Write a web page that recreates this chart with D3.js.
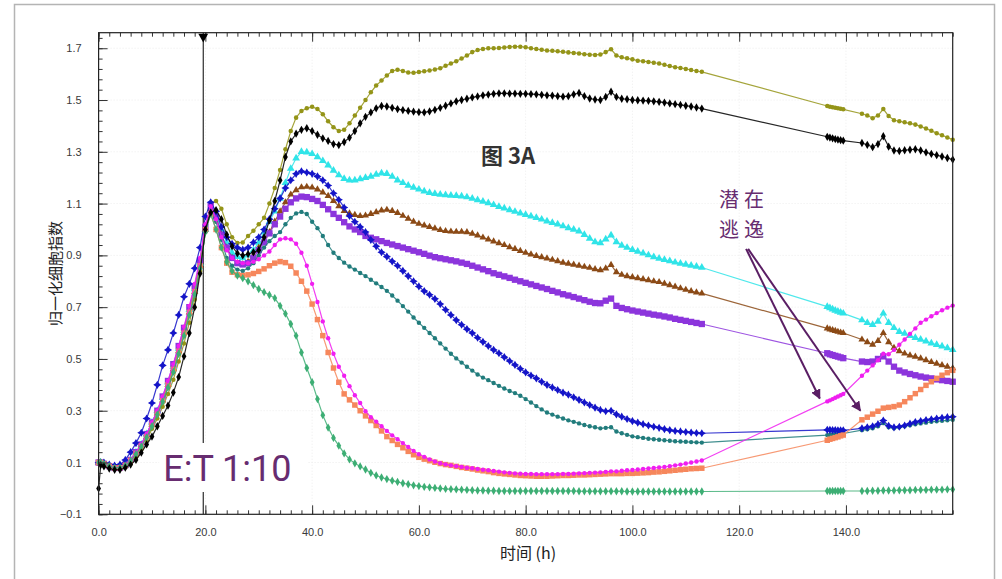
<!DOCTYPE html>
<html>
<head>
<meta charset="utf-8">
<script src="https://cdn.jsdelivr.net/npm/d3@7"></script>
<style>
    body { margin: 0; background: #fff; }
    svg { display: block; font-family: "Liberation Sans", Arial, sans-serif; }
</style>
</head>
<body>
<svg id="chart" width="1002" height="579"></svg>
<script>

// sample times (h): run up to 113 h, short read 136.5-139.5 h, last read 143-160 h
var times1 = [0, 0.4].concat(d3.range(1, 114));
var times2 = [136.5, 137, 137.5, 138, 138.5, 139, 139.5];
var times3 = d3.range(143, 161);

var xTicks = [0, 20, 40, 60, 80, 100, 120, 140];
var yTicks = [-0.1, 0.1, 0.3, 0.5, 0.7, 0.9, 1.1, 1.3, 1.5, 1.7];

// normalized cell index, one value per sample time
var olive = [
    0.095, 0.095, 0.09, 0.082, 0.075, 0.075, 0.082, 0.095, 0.12, 0.15,
    0.185, 0.23, 0.27, 0.315, 0.365, 0.42, 0.49, 0.56, 0.64, 0.73,
    0.84, 0.99, 1.10, 1.11, 1.08, 1.02, 0.97, 0.948, 0.95, 0.975,
    0.995, 1.02, 1.045, 1.1, 1.16, 1.23, 1.31, 1.38, 1.432, 1.458,
    1.468, 1.474, 1.465, 1.445, 1.418, 1.395, 1.38, 1.385, 1.41, 1.44,
    1.47, 1.50, 1.53, 1.556, 1.575, 1.595, 1.612, 1.617, 1.612, 1.606,
    1.605, 1.608, 1.611, 1.614, 1.618, 1.623, 1.632, 1.641, 1.65, 1.66,
    1.672, 1.685, 1.693, 1.697, 1.70, 1.70, 1.701, 1.703, 1.705, 1.706,
    1.706, 1.704, 1.70, 1.697, 1.694, 1.691, 1.69, 1.688, 1.686, 1.684,
    1.682, 1.68, 1.677, 1.675, 1.674, 1.676, 1.685, 1.696, 1.672, 1.665,
    1.661, 1.657, 1.652, 1.65, 1.647, 1.644, 1.641, 1.636, 1.631, 1.627,
    1.624, 1.62, 1.616, 1.612, 1.609,
    1.477, 1.474, 1.472, 1.47, 1.468, 1.466, 1.464,
    1.447, 1.44, 1.43, 1.44, 1.465, 1.438, 1.422, 1.418, 1.414,
    1.41, 1.405, 1.398, 1.39, 1.381, 1.372, 1.364, 1.355, 1.347
];

var black = [
    0, 0.09, 0.085, 0.077, 0.072, 0.072, 0.08, 0.092, 0.11, 0.138,
    0.17, 0.20, 0.24, 0.28, 0.32, 0.37, 0.43, 0.51, 0.60, 0.70,
    0.83, 1.0, 1.065, 1.075, 1.04, 0.98, 0.935, 0.908, 0.90, 0.905,
    0.912, 0.92, 0.97, 1.035, 1.11, 1.19, 1.28, 1.34, 1.37, 1.385,
    1.391, 1.38, 1.366, 1.352, 1.342, 1.33, 1.326, 1.338, 1.355, 1.38,
    1.41, 1.435, 1.452, 1.468, 1.477, 1.475, 1.47, 1.465, 1.461, 1.458,
    1.455, 1.453, 1.452, 1.456, 1.462, 1.47, 1.478, 1.487, 1.495, 1.50,
    1.505, 1.51, 1.514, 1.518, 1.521, 1.524, 1.526, 1.526, 1.525, 1.525,
    1.524, 1.524, 1.523, 1.522, 1.52, 1.518, 1.517, 1.515, 1.513, 1.515,
    1.522, 1.527, 1.515, 1.506, 1.502, 1.50, 1.512, 1.532, 1.512, 1.505,
    1.503, 1.50, 1.499, 1.498, 1.497, 1.495, 1.493, 1.49, 1.487, 1.484,
    1.481, 1.478, 1.475, 1.471, 1.467,
    1.358, 1.355, 1.352, 1.349, 1.347, 1.345, 1.343,
    1.334, 1.327, 1.318, 1.33, 1.36, 1.32, 1.305, 1.303, 1.306,
    1.308, 1.31, 1.305, 1.298, 1.292, 1.287, 1.282, 1.276, 1.27
];

var cyan = [
    0.10, 0.10, 0.095, 0.085, 0.078, 0.08, 0.09, 0.11, 0.14, 0.17,
    0.21, 0.255, 0.30, 0.35, 0.41, 0.47, 0.54, 0.61, 0.69, 0.77,
    0.87, 1.0, 1.08, 1.06, 1.0, 0.95, 0.91, 0.895, 0.89, 0.90,
    0.92, 0.95, 0.99, 1.03, 1.07, 1.12, 1.18, 1.235, 1.275, 1.30,
    1.298, 1.292, 1.28, 1.265, 1.248, 1.228, 1.21, 1.196, 1.19, 1.19,
    1.195, 1.20, 1.205, 1.212, 1.217, 1.215, 1.205, 1.19, 1.18, 1.17,
    1.162, 1.155, 1.148, 1.142, 1.138, 1.135, 1.133, 1.131, 1.13, 1.128,
    1.125, 1.12, 1.114, 1.108, 1.102, 1.095, 1.088, 1.082, 1.075, 1.069,
    1.063, 1.057, 1.051, 1.045, 1.039, 1.032, 1.026, 1.02, 1.013, 1.006,
    1.0, 0.993, 0.98, 0.965, 0.952, 0.948, 0.962, 0.978, 0.952, 0.938,
    0.93, 0.922, 0.915, 0.908, 0.901, 0.894, 0.888, 0.883, 0.878, 0.873,
    0.869, 0.865, 0.861, 0.857, 0.853,
    0.702, 0.697, 0.692, 0.687, 0.683, 0.679, 0.676,
    0.65, 0.64, 0.632, 0.645, 0.676, 0.64, 0.62, 0.605, 0.598,
    0.59, 0.582, 0.575, 0.568, 0.561, 0.555, 0.549, 0.542, 0.535
];

var brown = [
    0.10, 0.10, 0.094, 0.085, 0.078, 0.079, 0.088, 0.108, 0.135, 0.165,
    0.20, 0.245, 0.29, 0.34, 0.40, 0.46, 0.53, 0.60, 0.68, 0.76,
    0.86, 1.0, 1.08, 1.05, 0.98, 0.93, 0.89, 0.87, 0.865, 0.875,
    0.9, 0.93, 0.96, 0.99, 1.03, 1.07, 1.105, 1.135, 1.152, 1.163,
    1.165, 1.162, 1.155, 1.143, 1.13, 1.11, 1.09, 1.072, 1.062, 1.056,
    1.052, 1.054, 1.06, 1.067, 1.074, 1.076, 1.072, 1.064, 1.053, 1.042,
    1.03, 1.022, 1.016, 1.01, 1.004, 0.998, 0.994, 0.992, 0.991, 0.991,
    0.99, 0.984, 0.977, 0.969, 0.962, 0.954, 0.947, 0.94, 0.932, 0.925,
    0.917, 0.91, 0.904, 0.898, 0.893, 0.888, 0.883, 0.878, 0.872, 0.868,
    0.864, 0.86, 0.856, 0.852, 0.847, 0.843, 0.85, 0.863, 0.835, 0.825,
    0.82, 0.816, 0.812, 0.808, 0.804, 0.80, 0.797, 0.791, 0.785, 0.779,
    0.773, 0.767, 0.762, 0.757, 0.753,
    0.618, 0.614, 0.611, 0.608, 0.605, 0.602, 0.60,
    0.575, 0.565, 0.555, 0.57, 0.60, 0.565, 0.543, 0.53, 0.521,
    0.514, 0.509, 0.502, 0.495, 0.488, 0.482, 0.476, 0.47, 0.464
];

var purple = [
    0.10, 0.10, 0.095, 0.086, 0.079, 0.08, 0.09, 0.11, 0.14, 0.17,
    0.21, 0.255, 0.30, 0.355, 0.415, 0.48, 0.55, 0.62, 0.70, 0.78,
    0.88, 1.01, 1.09, 1.05, 0.98, 0.93, 0.89, 0.87, 0.865, 0.87,
    0.89, 0.92, 0.95, 0.985, 1.02, 1.05, 1.08, 1.105, 1.12, 1.127,
    1.125, 1.118, 1.11, 1.095, 1.078, 1.06, 1.045, 1.028, 1.012, 1.0,
    0.99, 0.975, 0.968, 0.962, 0.955, 0.948, 0.942, 0.936, 0.93, 0.924,
    0.918, 0.912, 0.906, 0.899, 0.893, 0.889, 0.885, 0.881, 0.877, 0.872,
    0.867, 0.86, 0.853, 0.846, 0.839, 0.831, 0.825, 0.819, 0.813, 0.806,
    0.80, 0.794, 0.788, 0.782, 0.776, 0.77, 0.763, 0.757, 0.75, 0.745,
    0.739, 0.733, 0.727, 0.721, 0.716, 0.715, 0.725, 0.733, 0.705, 0.697,
    0.692, 0.687, 0.683, 0.679, 0.675, 0.671, 0.668, 0.664, 0.66, 0.655,
    0.651, 0.647, 0.643, 0.639, 0.635,
    0.522, 0.518, 0.515, 0.512, 0.509, 0.506, 0.503,
    0.49, 0.488, 0.49, 0.50, 0.51, 0.49, 0.47, 0.455, 0.448,
    0.442, 0.437, 0.432, 0.428, 0.425, 0.421, 0.418, 0.415, 0.412
];

var blue = [
    0.10, 0.10, 0.10, 0.092, 0.088, 0.092, 0.11, 0.14, 0.175, 0.215,
    0.27, 0.33, 0.40, 0.475, 0.535, 0.60, 0.67, 0.74, 0.79, 0.85,
    0.93, 1.05, 1.105, 1.07, 1.01, 0.97, 0.945, 0.93, 0.922, 0.93,
    0.95, 0.97, 1.0, 1.04, 1.08, 1.12, 1.16, 1.19, 1.215, 1.225,
    1.22, 1.215, 1.205, 1.19, 1.17, 1.14, 1.115, 1.085, 1.052, 1.03,
    1.01, 0.99, 0.96, 0.935, 0.912, 0.895, 0.877, 0.86, 0.84, 0.82,
    0.80, 0.78, 0.762, 0.748, 0.732, 0.712, 0.69, 0.67, 0.65, 0.632,
    0.615, 0.60, 0.582, 0.566, 0.55, 0.535, 0.522, 0.507, 0.492, 0.477,
    0.462, 0.448, 0.436, 0.425, 0.412, 0.40, 0.39, 0.38, 0.37, 0.362,
    0.352, 0.342, 0.332, 0.322, 0.312, 0.303, 0.298, 0.30, 0.286, 0.277,
    0.268, 0.26, 0.254, 0.248, 0.243, 0.238, 0.234, 0.229, 0.225, 0.222,
    0.22, 0.218, 0.216, 0.214, 0.213,
    0.226, 0.226, 0.225, 0.225, 0.224, 0.224, 0.224,
    0.232, 0.236, 0.24, 0.248, 0.262, 0.242, 0.236, 0.238, 0.243,
    0.25, 0.256, 0.26, 0.264, 0.267, 0.27, 0.273, 0.275, 0.277
];

var teal = [
    0.10, 0.10, 0.094, 0.085, 0.078, 0.079, 0.088, 0.107, 0.133, 0.163,
    0.20, 0.24, 0.285, 0.335, 0.39, 0.45, 0.52, 0.59, 0.67, 0.75,
    0.85, 0.99, 1.07, 1.03, 0.96, 0.89, 0.86, 0.845, 0.84, 0.85,
    0.87, 0.90, 0.93, 0.955, 0.975, 0.99, 1.02, 1.045, 1.062, 1.068,
    1.06, 1.03, 1.005, 0.975, 0.94, 0.91, 0.89, 0.872, 0.857, 0.845,
    0.832, 0.82, 0.806, 0.792, 0.778, 0.763, 0.745, 0.725, 0.704, 0.683,
    0.66, 0.64, 0.62, 0.60, 0.58, 0.56, 0.54, 0.52, 0.502, 0.486,
    0.47, 0.455, 0.44, 0.428, 0.418, 0.407, 0.396, 0.386, 0.376, 0.368,
    0.358, 0.345, 0.332, 0.318, 0.305, 0.293, 0.285, 0.277, 0.27, 0.263,
    0.257, 0.251, 0.245, 0.24, 0.236, 0.232, 0.234, 0.236, 0.22, 0.213,
    0.207, 0.201, 0.198, 0.195, 0.192, 0.19, 0.188, 0.186, 0.184, 0.182,
    0.181, 0.18, 0.179, 0.178, 0.177,
    0.206, 0.207, 0.208, 0.209, 0.21, 0.211, 0.212,
    0.225, 0.228, 0.232, 0.24, 0.252, 0.236, 0.232, 0.236, 0.24,
    0.244, 0.248, 0.251, 0.254, 0.257, 0.259, 0.261, 0.263, 0.265
];

var salmon = [
    0.10, 0.10, 0.095, 0.086, 0.079, 0.08, 0.089, 0.108, 0.135, 0.165,
    0.20, 0.245, 0.29, 0.34, 0.40, 0.46, 0.53, 0.60, 0.68, 0.76,
    0.86, 1.0, 1.06, 1.0, 0.93, 0.87, 0.835, 0.825, 0.822, 0.825,
    0.83, 0.838, 0.848, 0.86, 0.87, 0.876, 0.872, 0.858, 0.832, 0.80,
    0.762, 0.712, 0.652, 0.59, 0.525, 0.465, 0.41, 0.365, 0.342, 0.322,
    0.30, 0.28, 0.262, 0.243, 0.222, 0.20, 0.185, 0.17, 0.157, 0.143,
    0.13, 0.12, 0.113, 0.107, 0.101, 0.096, 0.092, 0.089, 0.085, 0.081,
    0.078, 0.075, 0.071, 0.068, 0.065, 0.061, 0.058, 0.056, 0.054, 0.052,
    0.05, 0.049, 0.048, 0.047, 0.047, 0.047, 0.048, 0.049, 0.05, 0.05,
    0.051, 0.052, 0.052, 0.053, 0.054, 0.055, 0.056, 0.057, 0.057, 0.057,
    0.058, 0.058, 0.059, 0.06, 0.061, 0.063, 0.064, 0.066, 0.068, 0.07,
    0.072, 0.074, 0.076, 0.077, 0.078,
    0.186, 0.19, 0.193, 0.196, 0.199, 0.203, 0.206,
    0.265, 0.275, 0.287, 0.298, 0.31, 0.313, 0.316, 0.322, 0.335,
    0.35, 0.366, 0.382, 0.398, 0.412, 0.425, 0.437, 0.447, 0.456
];

var magenta = [
    0.10, 0.10, 0.096, 0.087, 0.08, 0.081, 0.09, 0.11, 0.138, 0.17,
    0.21, 0.255, 0.30, 0.355, 0.415, 0.48, 0.55, 0.625, 0.705, 0.79,
    0.89, 1.02, 1.09, 1.04, 0.97, 0.92, 0.89, 0.875, 0.87, 0.87,
    0.875, 0.885, 0.90, 0.915, 0.94, 0.962, 0.966, 0.962, 0.945, 0.91,
    0.86, 0.79, 0.72, 0.645, 0.58, 0.52, 0.47, 0.435, 0.395, 0.36,
    0.33, 0.298, 0.275, 0.258, 0.24, 0.222, 0.205, 0.19, 0.175, 0.16,
    0.145, 0.132, 0.122, 0.112, 0.104, 0.097, 0.093, 0.089, 0.086, 0.083,
    0.08, 0.078, 0.075, 0.072, 0.07, 0.067, 0.065, 0.062, 0.06, 0.058,
    0.057, 0.056, 0.056, 0.055, 0.055, 0.055, 0.055, 0.055, 0.056, 0.056,
    0.057, 0.058, 0.059, 0.06, 0.061, 0.062, 0.064, 0.066, 0.066, 0.068,
    0.07, 0.071, 0.073, 0.075, 0.077, 0.079, 0.081, 0.083, 0.086, 0.089,
    0.092, 0.096, 0.10, 0.104, 0.108,
    0.336, 0.34, 0.345, 0.35, 0.355, 0.36, 0.365,
    0.435, 0.455, 0.475, 0.495, 0.52, 0.518, 0.535, 0.555, 0.575,
    0.597, 0.618, 0.64, 0.652, 0.665, 0.677, 0.688, 0.698, 0.706
];

var green = [
    0.10, 0.10, 0.095, 0.086, 0.079, 0.08, 0.088, 0.106, 0.132, 0.162,
    0.197, 0.24, 0.285, 0.335, 0.39, 0.45, 0.52, 0.59, 0.67, 0.75,
    0.85, 0.99, 1.06, 1.0, 0.93, 0.875, 0.84, 0.822, 0.812, 0.80,
    0.785, 0.77, 0.758, 0.747, 0.735, 0.705, 0.675, 0.635, 0.59, 0.525,
    0.465, 0.41, 0.345, 0.283, 0.235, 0.195, 0.165, 0.135, 0.112, 0.097,
    0.085, 0.073, 0.06, 0.05, 0.042, 0.036, 0.03, 0.025, 0.02, 0.016,
    0.012, 0.009, 0.006, 0.004, 0.002, 0.0, -0.002, -0.003, -0.004, -0.005,
    -0.006, -0.007, -0.008, -0.008, -0.009, -0.009, -0.01, -0.01, -0.01, -0.01,
    -0.01, -0.01, -0.01, -0.01, -0.01, -0.01, -0.01, -0.01, -0.01, -0.01,
    -0.01, -0.011, -0.011, -0.011, -0.011, -0.011, -0.011, -0.011, -0.011, -0.011,
    -0.012, -0.012, -0.012, -0.012, -0.012, -0.012, -0.012, -0.012, -0.012, -0.012,
    -0.012, -0.012, -0.012, -0.012, -0.012,
    -0.01, -0.01, -0.01, -0.01, -0.01, -0.01, -0.01,
    -0.01, -0.01, -0.009, -0.009, -0.008, -0.008, -0.008, -0.007, -0.007,
    -0.007, -0.006, -0.006, -0.006, -0.005, -0.005, -0.005, -0.004, -0.004
];

// 4-point star used for the blue series
var star4 = {
    draw: function (ctx, size) {
        var r = Math.sqrt(size) * 0.8, s = r * 0.38;
        ctx.moveTo(0, -r); ctx.lineTo(s, -s); ctx.lineTo(r, 0); ctx.lineTo(s, s);
        ctx.lineTo(0, r); ctx.lineTo(-s, s); ctx.lineTo(-r, 0); ctx.lineTo(-s, -s);
        ctx.closePath();
    }
};

var times = times1.concat(times2, times3);

// black goes last so its start point sits on top, as in the source
var series = [
    {values: olive, color: "#949418", symbol: d3.symbolCircle, size: 16},
    {values: cyan, color: "#30e4e8", symbol: d3.symbolTriangle, size: 26},
    {values: brown, color: "#8b4a16", symbol: d3.symbolTriangle, size: 22},
    {values: purple, color: "#8c35dc", symbol: d3.symbolSquare, size: 40},
    {values: teal, color: "#217c7c", symbol: d3.symbolCircle, size: 15},
    {values: blue, color: "#1414c8", symbol: star4, size: 26},
    {values: salmon, color: "#f6875c", symbol: d3.symbolSquare, size: 30},
    {values: magenta, color: "#f01ef0", symbol: d3.symbolCircle, size: 15},
    {values: green, color: "#3dae74", symbol: d3.symbolDiamond, size: 20},
    {values: black, color: "#000000", symbol: d3.symbolDiamond, size: 20}
];

var plot = {left: 98.6, right: 952.7, top: 32.7, bottom: 514.3};

var x = d3.scaleLinear().domain([0, 160]).range([plot.left, plot.right]);
var y = d3.scaleLinear().domain([-0.1, 1.76]).range([plot.bottom, plot.top]);

var svg = d3.select("#chart");

svg.append("rect")
    .attr("width", 1002).attr("height", 579)
    .attr("fill", "#fff");

svg.append("rect")
    .attr("x", 14.5).attr("y", 4.5)
    .attr("width", 980).attr("height", 640)
    .attr("fill", "none")
    .attr("stroke", "#b4b4b4")
    .attr("stroke-width", 1.5);

// faint grid
var grid = svg.append("g").attr("stroke", "#ececec").attr("stroke-dasharray", "1,2");
grid.selectAll(null).data(yTicks.slice(1)).enter().append("line")
    .attr("x1", plot.left).attr("x2", plot.right)
    .attr("y1", function (d) { return y(d); })
    .attr("y2", function (d) { return y(d); });
grid.selectAll(null).data(xTicks.slice(1)).enter().append("line")
    .attr("y1", plot.top).attr("y2", plot.bottom)
    .attr("x1", function (d) { return x(d); })
    .attr("x2", function (d) { return x(d); });

// E:T marker line
var etTime = 19.6;
svg.append("line")
    .attr("x1", x(etTime)).attr("x2", x(etTime))
    .attr("y1", plot.top).attr("y2", plot.bottom)
    .attr("stroke", "#000").attr("stroke-width", 1);

// series
var line = d3.line()
    .x(function (d) { return x(d[0]); })
    .y(function (d) { return y(d[1]); });

var gSeries = svg.append("g");

series.forEach(function (s) {
    var pts = times.map(function (t, i) { return [t, s.values[i]]; });
    var g = gSeries.append("g");

    g.append("path")
        .datum(pts)
        .attr("d", line)
        .attr("fill", "none")
        .attr("stroke", s.color)
        .attr("stroke-opacity", 0.85)
        .attr("stroke-width", 1.2);

    g.selectAll("path.pt")
        .data(pts)
        .enter()
        .append("path")
        .attr("class", "pt")
        .attr("transform", function (d) {
            return "translate(" + x(d[0]) + "," + y(d[1]) + ")";
        })
        .attr("d", d3.symbol().type(s.symbol).size(s.size))
        .attr("fill", s.color);
});

// axes
var fmt = d3.format(".1f");

var axisG = svg.append("g")
    .attr("font-size", 11)
    .attr("fill", "#333");

axisG.append("g")
    .attr("transform", "translate(0," + plot.bottom + ")")
    .call(d3.axisBottom(x).tickValues(xTicks).tickSizeInner(-9).tickSizeOuter(0)
        .tickPadding(14).tickFormat(fmt));
axisG.append("g")
    .attr("transform", "translate(0," + plot.bottom + ")")
    .call(d3.axisBottom(x).tickValues(d3.range(0, 161, 2)).tickSizeInner(-4)
        .tickSizeOuter(0).tickFormat(""));
axisG.append("g")
    .attr("transform", "translate(0," + plot.top + ")")
    .call(d3.axisTop(x).tickValues(xTicks).tickSizeInner(-9).tickSizeOuter(0).tickFormat(""));
axisG.append("g")
    .attr("transform", "translate(0," + plot.top + ")")
    .call(d3.axisTop(x).tickValues(d3.range(0, 161, 2)).tickSizeInner(-4)
        .tickSizeOuter(0).tickFormat(""));

axisG.append("g")
    .attr("transform", "translate(" + plot.left + ",0)")
    .call(d3.axisLeft(y).tickValues(yTicks).tickSizeInner(-9).tickSizeOuter(0)
        .tickPadding(17).tickFormat(fmt));
axisG.append("g")
    .attr("transform", "translate(" + plot.left + ",0)")
    .call(d3.axisLeft(y).tickValues(d3.range(-0.1, 1.76, 0.04)).tickSizeInner(-4)
        .tickSizeOuter(0).tickFormat(""));

axisG.selectAll(".domain").remove();
axisG.selectAll(".tick line").attr("stroke", "#333");
axisG.selectAll(".tick text")
    .attr("fill", "#3a3a3a")
    .attr("font-family", "'Liberation Sans', Arial, sans-serif")
    .attr("font-size", 11);

// frame
svg.append("rect")
    .attr("x", plot.left).attr("y", plot.top)
    .attr("width", plot.right - plot.left)
    .attr("height", plot.bottom - plot.top)
    .attr("fill", "none")
    .attr("stroke", "#222")
    .attr("stroke-width", 1.2);

// E:T marker head
svg.append("path")
    .attr("transform", "translate(" + x(etTime) + "," + (plot.top + 4) + ") rotate(180)")
    .attr("d", d3.symbol().type(d3.symbolTriangle).size(42))
    .attr("fill", "#000");

// E:T label with white box
svg.append("rect")
    .attr("x", x(etTime) - 44).attr("y", 443)
    .attr("width", 148).attr("height", 49)
    .attr("fill", "#fff");
svg.append("text")
    .attr("x", x(etTime) - 40).attr("y", 481)
    .attr("font-family", "Roboto, 'Open Sans', sans-serif")
    .attr("font-size", 36)
    .attr("fill", "#672c70")
    .text("E:T 1:10");

// axis titles
svg.append("text")
    .attr("transform", "translate(61," + ((plot.top + plot.bottom) / 2) + ") rotate(-90)")
    .attr("text-anchor", "middle")
    .attr("font-family", "'Noto Sans CJK SC', sans-serif")
    .attr("font-size", 15)
    .attr("fill", "#222")
    .text("归一化细胞指数");

svg.append("text")
    .attr("x", 528).attr("y", 559)
    .attr("text-anchor", "middle")
    .attr("font-family", "'Noto Sans CJK SC', sans-serif")
    .attr("font-size", 16)
    .attr("fill", "#222")
    .text("时间 (h)");

// figure tag
svg.append("text")
    .attr("x", 481).attr("y", 164)
    .attr("font-family", "'Noto Sans CJK SC', sans-serif")
    .attr("font-weight", "bold")
    .attr("font-size", 22)
    .attr("fill", "#333")
    .text("图 3A");

// escape annotation, one text wrapped on two lines
var noteColor = "#672c70";
var note = svg.append("text")
    .attr("x", 719).attr("y", 207)
    .attr("font-family", "'Noto Sans CJK SC', sans-serif")
    .attr("font-size", 20)
    .attr("letter-spacing", 5)
    .attr("fill", noteColor);
note.append("tspan").attr("x", 719).attr("dy", 0).text("潜在");
note.append("tspan").attr("x", 719).attr("dy", 30).text("逃逸");

svg.append("defs").append("marker")
    .attr("id", "arrowHead")
    .attr("viewBox", "0 0 10 10")
    .attr("refX", 9).attr("refY", 5)
    .attr("markerWidth", 5).attr("markerHeight", 5)
    .attr("markerUnits", "strokeWidth")
    .attr("orient", "auto")
    .append("path")
    .attr("d", "M0,0L10,5L0,10z")
    .attr("fill", "#5a1e64");

// arrows: from below the note to the escaping curves (time, index)
var arrowFrom = [121.3, 0.925];
var arrowTo = [[135.1, 0.347], [142.7, 0.30]];
svg.selectAll("line.arrow")
    .data(arrowTo)
    .enter()
    .append("line")
    .attr("class", "arrow")
    .attr("x1", function (d, i) { return x(arrowFrom[0]) + i * 2; })
    .attr("y1", y(arrowFrom[1]))
    .attr("x2", function (d) { return x(d[0]); })
    .attr("y2", function (d) { return y(d[1]); })
    .attr("stroke", "#5a1e64")
    .attr("stroke-width", 2)
    .attr("marker-end", "url(#arrowHead)");

</script>
</body>
</html>
